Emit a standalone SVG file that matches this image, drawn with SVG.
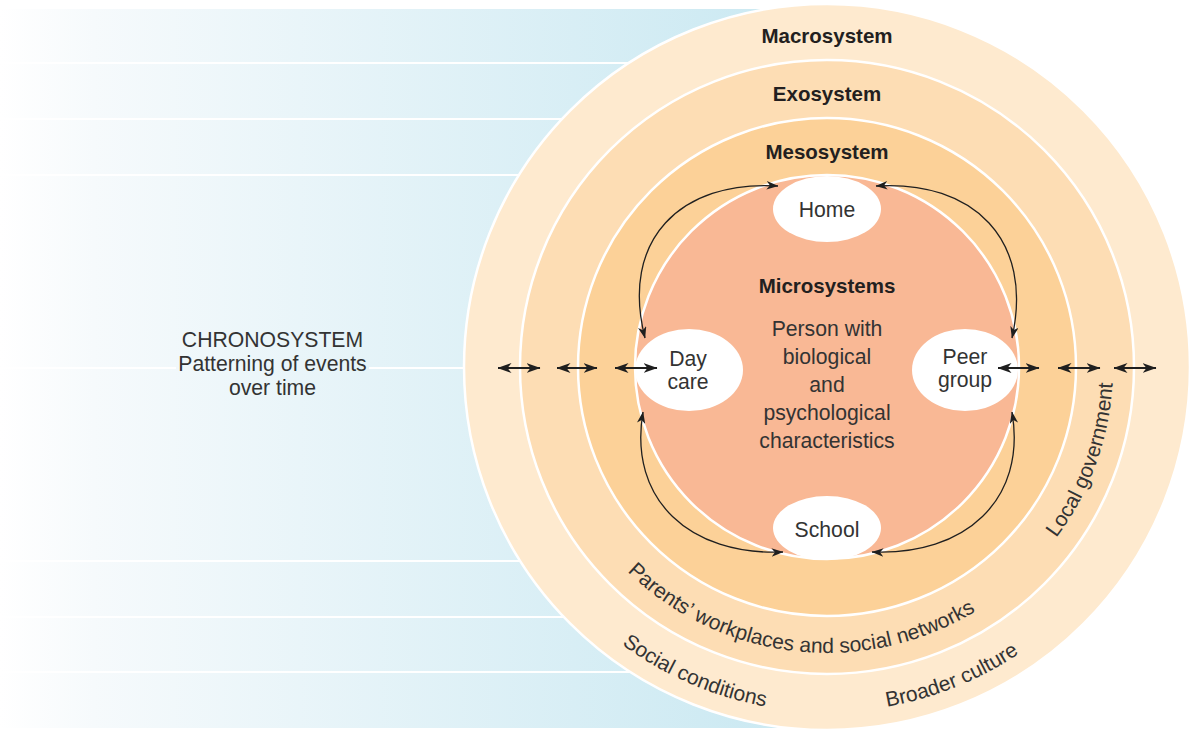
<svg xmlns="http://www.w3.org/2000/svg" width="1190" height="732" viewBox="0 0 1190 732">
  <defs>
    <linearGradient id="blue" gradientUnits="userSpaceOnUse" x1="0" y1="0" x2="780" y2="0">
      <stop offset="0" stop-color="#FFFFFF"/>
      <stop offset="0.12" stop-color="#F6FAFC"/>
      <stop offset="1" stop-color="#CBE9F2"/>
    </linearGradient>
    <marker id="ah" viewBox="0 0 14 10" refX="13.5" refY="5" markerWidth="14" markerHeight="10" markerUnits="userSpaceOnUse" orient="auto-start-reverse">
      <path d="M0,0 L14,5 L0,10 L4,5 Z" fill="#1f1f1f"/>
    </marker>
    <marker id="ahs" viewBox="0 0 14 10" refX="13.5" refY="5" markerWidth="12" markerHeight="8.5" markerUnits="userSpaceOnUse" orient="auto-start-reverse">
      <path d="M0,0 L14,5 L0,10 L4,5 Z" fill="#1f1f1f"/>
    </marker>
    <path id="arc286" d="M541,367 A286,286 0 0 0 1113,367"/>
    <path id="arc345" d="M482,367 A345,345 0 0 0 1172,367"/>
  </defs>
  <style>
    .sep { stroke: #FFFFFF; stroke-width: 2; }
    .ring { stroke: #FFFFFF; stroke-width: 2.5; }
    .title { font-family: "Liberation Sans", Arial, sans-serif; font-weight: bold; font-size: 20.5px; fill: #231F20; text-anchor: middle; }
    .label { font-family: "Liberation Sans", Arial, sans-serif; font-size: 21.2px; fill: #333333; text-anchor: middle; }
    .curved { font-family: "Liberation Sans", Arial, sans-serif; font-size: 21px; fill: #333333; }
    .node { fill: #FFFFFF; }
    .conn { fill: none; stroke: #1f1f1f; stroke-width: 1.3; marker-start: url(#ahs); marker-end: url(#ahs); }
    .axis { fill: none; stroke: #1f1f1f; stroke-width: 1.8; marker-start: url(#ah); marker-end: url(#ah); }
  </style>

  <g id="chronosystem">
    <rect x="0" y="9" width="830" height="719" fill="url(#blue)"/>
    <line class="sep" x1="0" y1="63" x2="830" y2="63"/>
    <line class="sep" x1="0" y1="119" x2="830" y2="119"/>
    <line class="sep" x1="0" y1="175" x2="830" y2="175"/>
    <line class="sep" x1="0" y1="368" x2="176" y2="368"/>
    <line class="sep" x1="369" y1="368" x2="830" y2="368"/>
    <line class="sep" x1="0" y1="561" x2="830" y2="561"/>
    <line class="sep" x1="0" y1="617" x2="830" y2="617"/>
    <line class="sep" x1="0" y1="672" x2="830" y2="672"/>
    <text class="label" x="272.5" y="347">CHRONOSYSTEM</text>
    <text class="label" x="272.5" y="371">Patterning of events</text>
    <text class="label" x="272.5" y="395">over time</text>
  </g>

  <g id="macrosystem">
    <circle class="ring" cx="827" cy="367" r="363" fill="#FEEACF"/>
    <text class="title" x="827" y="43">Macrosystem</text>
  </g>
  <g id="exosystem">
    <circle class="ring" cx="827" cy="367" r="307" fill="#FDDDB4"/>
    <text class="title" x="827" y="101">Exosystem</text>
  </g>
  <g id="mesosystem">
    <circle class="ring" cx="827" cy="367" r="249" fill="#FCD198"/>
    <text class="title" x="827" y="159">Mesosystem</text>
  </g>
  <g id="microsystems">
    <circle class="ring" cx="827" cy="367" r="192" fill="#F9B895"/>
    <text class="title" x="827" y="293">Microsystems</text>
    <text class="label" x="827" y="336">Person with</text>
    <text class="label" x="827" y="364">biological</text>
    <text class="label" x="827" y="392">and</text>
    <text class="label" x="827" y="420">psychological</text>
    <text class="label" x="827" y="448">characteristics</text>
  </g>

  <g id="ring-labels">
    <text class="curved"><textPath href="#arc286" startOffset="46.4%" text-anchor="middle">Parents’ workplaces and social networks</textPath></text>
    <text class="curved"><textPath href="#arc286" startOffset="88.9%" text-anchor="middle">Local government</textPath></text>
    <text class="curved"><textPath href="#arc345" startOffset="37%" text-anchor="middle">Social conditions</textPath></text>
    <text class="curved"><textPath href="#arc345" startOffset="62.2%" text-anchor="middle">Broader culture</textPath></text>
  </g>

  <g id="home">
    <ellipse class="node" cx="827" cy="209" rx="54" ry="33"/>
    <text class="label" x="827" y="217">Home</text>
  </g>
  <g id="daycare">
    <ellipse class="node" cx="689" cy="370" rx="54" ry="41"/>
    <text class="label" x="688" y="366">Day</text>
    <text class="label" x="688" y="389">care</text>
  </g>
  <g id="peergroup">
    <ellipse class="node" cx="965" cy="370" rx="53" ry="41"/>
    <text class="label" x="965" y="364">Peer</text>
    <text class="label" x="965" y="387">group</text>
  </g>
  <g id="school">
    <ellipse class="node" cx="827" cy="528" rx="54" ry="32"/>
    <text class="label" x="827" y="537">School</text>
  </g>

  <g id="connectors">
    <path class="conn" d="M778,186 C680,180 620,240 645,338"/>
    <path class="conn" d="M876,186 C974,180 1034,240 1012,338"/>
    <path class="conn" d="M643,412 C628,500 690,556 783,552"/>
    <path class="conn" d="M1012,412 C1027,500 965,556 872,552"/>
    <line class="axis" x1="498" y1="368" x2="540" y2="368"/>
    <line class="axis" x1="557" y1="368" x2="597" y2="368"/>
    <line class="axis" x1="615" y1="368" x2="657" y2="368"/>
    <line class="axis" x1="998" y1="368" x2="1039" y2="368"/>
    <line class="axis" x1="1058" y1="368" x2="1100" y2="368"/>
    <line class="axis" x1="1114" y1="368" x2="1156" y2="368"/>
  </g>
</svg>
